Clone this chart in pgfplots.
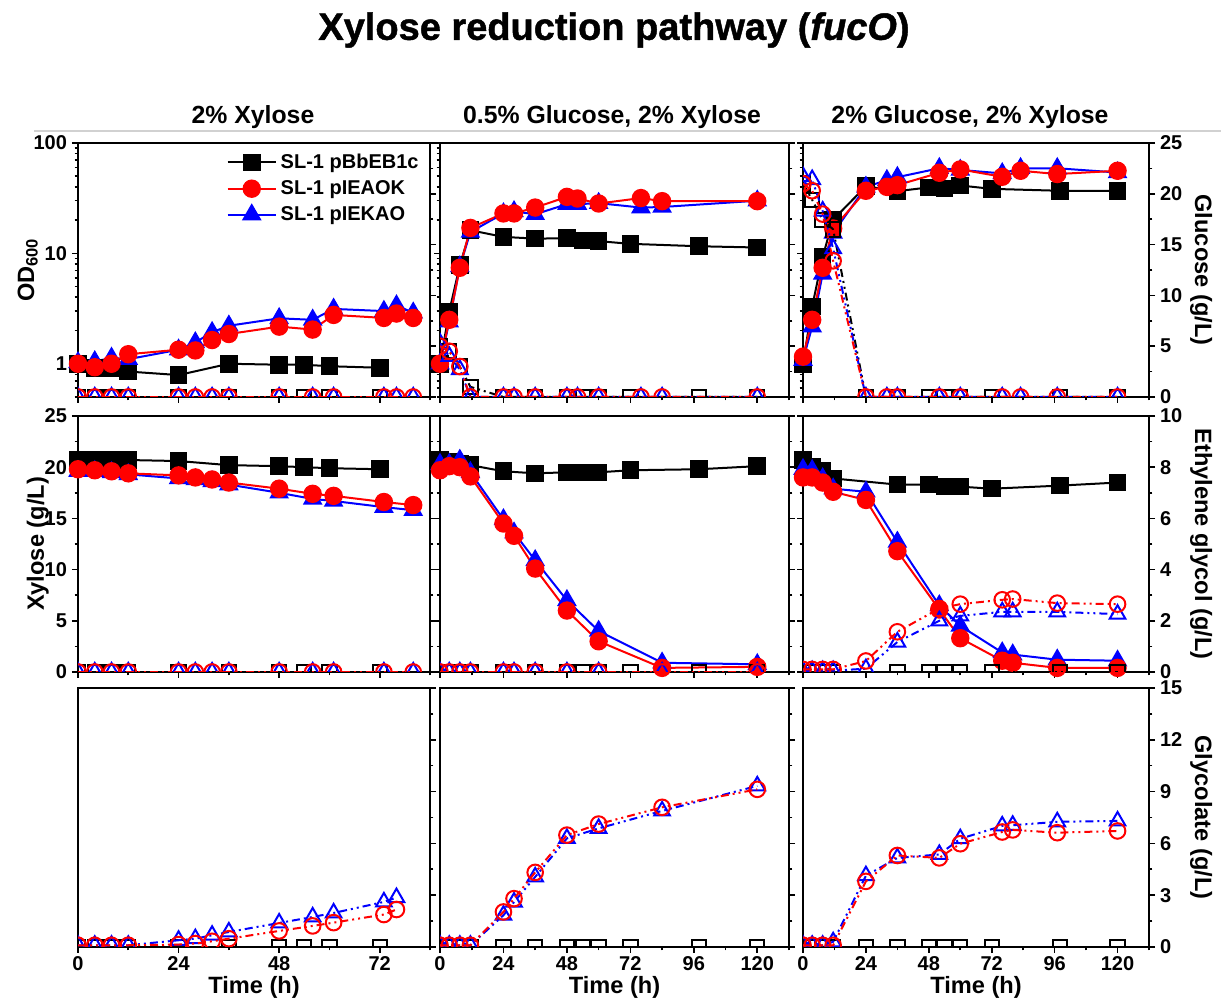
\documentclass[border=0pt]{standalone}
\usepackage{fontspec}
\setmainfont{Liberation Sans}
\newfontfamily\heavy[FakeBold=1.2]{Liberation Sans}
\usepackage{pgfplots}
\pgfplotsset{compat=1.18}
\newcommand{\tickfont}{\fontsize{10}{12}\selectfont\bfseries}
\newcommand{\labfont}{\fontsize{11.8}{14}\selectfont\bfseries}
\pgfplotsset{
  base/.style={scale only axis, axis line style={line width=1pt},
    every tick/.style={black, line width=0.8pt}, tick align=outside,
    major tick length=3pt, minor tick length=1.7pt,
    tick label style={font=\tickfont}, label style={font=\labfont},
    /pgf/number format/assume math mode=true, xtick pos=left, anchor=south west,
    xticklabel shift=-2pt, xlabel shift=-4pt},
  prim/.style={base, ytick pos=left, yticklabel shift=-1pt, ylabel shift=-9pt},
  sec/.style={base, axis y line*=right, axis x line=none, clip mode=individual, clip marker paths=true,
    yticklabel shift=-1pt, ylabel shift=-3pt},
  cL/.style={xmin=0, xmax=84, xtick={0,24,48,72}, minor xtick={12,36,60,84}, width=176pt},
  cM/.style={xmin=0, xmax=132, xtick={0,24,...,120}, minor xtick={12,36,...,132}, width=174.5pt},
  cR/.style={xmin=0, xmax=132, xtick={0,24,...,120}, minor xtick={12,36,...,132}, width=173pt},
  rT/.style={height=127pt},
  rM/.style={height=128pt},
  rB/.style={height=129.5pt},
  odax/.style={ymin=0.5, ymax=100, ytick={1,10,100},
    minor ytick={0.5,0.6,0.7,0.8,0.9,2,3,4,5,6,7,8,9,20,30,40,50,60,70,80,90}, log ticks with fixed point},
  xylax/.style={ymin=0, ymax=25, ytick={0,5,...,25}, minor ytick={2.5,7.5,...,22.5}},
  glcax/.style={ymin=0, ymax=25, ytick={0,5,...,25}, minor ytick={2.5,7.5,...,22.5}},
  egax/.style={ymin=0, ymax=10, ytick={0,2,...,10}, minor ytick={1,3,...,9}},
  gcax/.style={ymin=0, ymax=15, ytick={0,3,...,15}, minor ytick={1.5,4.5,...,13.5}},
  sBk/.style={black, line width=1pt, mark=square*, mark size=3.9pt, mark options={solid, fill=black}},
  sRd/.style={red, line width=1pt, mark=*, mark size=4.1pt, mark options={solid, fill=red}},
  sBl/.style={blue, line width=1pt, mark=triangle*, mark size=4.7pt, mark options={solid, fill=blue}},
  dd/.style={dash pattern=on 4pt off 2pt on 1pt off 2pt on 1pt off 2pt},
  oBk/.style={black, line width=1pt, dd, mark=square, mark size=3.6pt, mark options={solid, fill=white}},
  oRd/.style={red, line width=1pt, dd, mark=o, mark size=3.9pt, mark options={solid, fill=white}},
  oBl/.style={blue, line width=1pt, dd, mark=triangle, mark size=4.5pt, mark options={solid, fill=white}},
}
\begin{document}
\begin{tikzpicture}
\path[use as bounding box] (0pt,0pt) rectangle (610.5pt,499.5pt);
\draw[black!18, line width=0.6pt] (17pt,434pt) -- (610.5pt,434pt);
\node[font=\fontsize{19}{21}\selectfont\heavy\bfseries] at (307pt,484.5pt) {Xylose reduction pathway (\textit{fucO})};
\node[font=\fontsize{12.4}{14}\selectfont\bfseries] at (126.5pt,441pt) {2\% Xylose};
\node[font=\fontsize{12.4}{14}\selectfont\bfseries] at (306pt,441pt) {0.5\% Glucose, 2\% Xylose};
\node[font=\fontsize{12.4}{14}\selectfont\bfseries] at (485pt,441pt) {2\% Glucose, 2\% Xylose};

% ================= TOP LEFT =================
\begin{semilogyaxis}[prim, cL, rT, odax, at={(39pt,301pt)}, xticklabels={}, ylabel={OD\textsubscript{600}},
  legend image code/.code={\draw[mark repeat=2,mark phase=2,#1] plot coordinates {(0pt,0pt) (12pt,0pt) (24pt,0pt)};},
  legend style={at={(0.98,0.975)}, anchor=north east, draw=none, fill=none, font=\fontsize{10}{12}\selectfont\bfseries, inner sep=0pt, row sep=0.5pt},
  legend cell align=left]
\addlegendimage{sBk}\addlegendentry{SL-1 pBbEB1c}
\addlegendimage{sRd}\addlegendentry{SL-1 pIEAOK}
\addlegendimage{sBl}\addlegendentry{SL-1 pIEKAO}
\addplot[sBk, forget plot] coordinates {(0,1.0)(4,0.91)(8,0.91)(12,0.85)(24,0.79)(36,1.0)(48,0.98)(54,0.98)(60,0.95)(72,0.92)};
\addplot[sBl, forget plot] coordinates {(0,1.03)(4,1.05)(8,1.13)(12,1.1)(24,1.34)(28,1.56)(32,1.93)(36,2.21)(48,2.58)(56,2.5)(61,3.14)(73,3.0)(76,3.37)(80,2.9)};
\addplot[sRd, forget plot] coordinates {(0,1.0)(4,0.93)(8,1.0)(12,1.22)(24,1.34)(28,1.32)(32,1.64)(36,1.86)(48,2.17)(56,2.04)(61,2.77)(73,2.6)(76,2.85)(80,2.6)};
\end{semilogyaxis}
\begin{axis}[sec, cL, rT, glcax, at={(39pt,301pt)}, yticklabels={}]
\addplot[oBk] coordinates {(0,0)(4,0)(8,0)(12,0)(24,0)(36,0)(48,0)(54,0)(60,0)(72,0)};
\addplot[oBl] coordinates {(0,0)(4,0)(8,0)(12,0)(24,0)(28,0)(32,0)(36,0)(48,0)(56,0)(61,0)(73,0)(76,0)(80,0)};
\addplot[oRd] coordinates {(0,0)(4,0)(8,0)(12,0)(24,0)(28,0)(32,0)(36,0)(48,0)(56,0)(61,0)(73,0)(76,0)(80,0)};
\end{axis}

% ================= TOP MIDDLE =================
\begin{semilogyaxis}[prim, cM, rT, odax, at={(220pt,301pt)}, xticklabels={}, yticklabels={}]
\addplot[sBk] coordinates {(0,1.0)(3.5,2.97)(7.5,7.8)(11.5,16.2)(24,14.1)(36,13.6)(48,13.7)(54,13.1)(60,12.9)(72,12.2)(98,11.6)(120,11.3)};
\addplot[sBl] coordinates {(0,1.0)(3.5,2.4)(7.5,7.6)(11.5,15.6)(24,23)(28,24)(36,22.6)(48,27.9)(52,27.9)(60,28.5)(76,26)(84,26.3)(120,30)};
\addplot[sRd] coordinates {(0,1.0)(3.5,2.5)(7.5,7.4)(11.5,17)(24,23)(28,23)(36,26)(48,32.5)(52,31.4)(60,28.3)(76,31.7)(84,29.7)(120,29.7)};
\end{semilogyaxis}
\begin{axis}[sec, cM, rT, glcax, at={(220pt,301pt)}, yticklabels={}]
\addplot[oBk] coordinates {(0,5)(3.5,4.5)(7.5,3.0)(11.5,1.0)(24,0)(36,0)(48,0)(54,0)(60,0)(72,0)(98,0)(120,0)};
\addplot[oBl] coordinates {(0,5.3)(3.5,4.0)(7.5,2.7)(11.5,0)(24,0)(28,0)(36,0)(48,0)(52,0)(60,0)(76,0)(84,0)(120,0)};
\addplot[oRd] coordinates {(0,5.0)(3.5,4.5)(7.5,3.0)(11.5,0)(24,0)(28,0)(36,0)(48,0)(52,0)(60,0)(76,0)(84,0)(120,0)};
\end{axis}

% ================= TOP RIGHT =================
\begin{semilogyaxis}[prim, cR, rT, odax, at={(401.5pt,301pt)}, xticklabels={}, yticklabels={}]
\addplot[sBk] coordinates {(0,1.0)(3.5,3.3)(7.5,9.3)(11.5,20.2)(24,40.6)(36,36.6)(48,39.6)(54,38.6)(60,41.2)(72,38.4)(98,36.9)(120,36.9)};
\addplot[sBl] coordinates {(0,1.08)(3.5,2.17)(7.5,6.5)(11.5,15.3)(24,40)(32,46)(36,49)(52,59)(60,57)(76,53)(83,59)(97,59)(120,54)};
\addplot[sRd] coordinates {(0,1.16)(3.5,2.5)(7.5,7.4)(11.5,16.8)(24,36.9)(32,40)(36,41.5)(52,53.7)(60,57.6)(76,49.4)(83,56)(97,52.3)(120,56)};
\end{semilogyaxis}
\begin{axis}[sec, cR, rT, glcax, at={(401.5pt,301pt)}, ylabel={Glucose (g/L)}, ylabel style={rotate=180}]
\addplot[oBk] coordinates {(0,21)(3.5,19.4)(7.5,17.4)(11.5,16.5)(24,0)(36,0)(48,0)(54,0)(60,0)(72,0)(98,0)(120,0)};
\addplot[oBl] coordinates {(0,21.7)(3.5,21.4)(7.5,18.3)(11.5,14.6)(24,0)(32,0)(36,0)(52,0)(60,0)(76,0)(83,0)(97,0)(120,0)};
\addplot[oRd] coordinates {(0,21)(3.5,20.3)(7.5,18.0)(11.5,13.4)(24,0)(32,0)(36,0)(52,0)(60,0)(76,0)(83,0)(97,0)(120,0)};
\end{axis}

% ================= MID LEFT =================
\begin{axis}[prim, cL, rM, xylax, at={(39pt,163.5pt)}, xticklabels={}, ylabel={Xylose (g/L)}]
\addplot[sBk] coordinates {(0,20.7)(4,20.7)(8,20.7)(12,20.7)(24,20.6)(36,20.2)(48,20.1)(54,20.0)(60,19.9)(72,19.8)};
\addplot[sBl] coordinates {(0,19.6)(4,19.6)(8,19.5)(12,19.3)(24,18.9)(28,18.8)(32,18.6)(36,18.3)(48,17.5)(56,16.9)(61,16.7)(73,16.1)(80,15.8)};
\addplot[sRd] coordinates {(0,19.8)(4,19.7)(8,19.6)(12,19.4)(24,19.2)(28,19.0)(32,18.8)(36,18.5)(48,17.9)(56,17.4)(61,17.2)(73,16.6)(80,16.3)};
\end{axis}
\begin{axis}[sec, cL, rM, egax, at={(39pt,163.5pt)}, yticklabels={}]
\addplot[oBk] coordinates {(0,0)(4,0)(8,0)(12,0)(24,0)(36,0)(48,0)(54,0)(60,0)(72,0)};
\addplot[oBl] coordinates {(0,0)(4,0)(8,0)(12,0)(24,0)(28,0)(32,0)(36,0)(48,0)(56,0)(61,0)(73,0)(80,0)};
\addplot[oRd] coordinates {(0,0)(4,0)(8,0)(12,0)(24,0)(28,0)(32,0)(36,0)(48,0)(56,0)(61,0)(73,0)(80,0)};
\end{axis}

% ================= MID MIDDLE =================
\begin{axis}[prim, cM, rM, xylax, at={(220pt,163.5pt)}, xticklabels={}, yticklabels={}]
\addplot[sBk] coordinates {(0,20.7)(3.5,20.5)(7.5,20.3)(11.5,20.2)(24,19.6)(36,19.4)(48,19.5)(54,19.5)(60,19.5)(72,19.7)(98,19.8)(120,20.1)};
\addplot[sBl] coordinates {(0,20.3)(3.5,20.3)(7.5,20.7)(11.5,19.5)(24,14.9)(28,13.6)(36,10.9)(48,7.0)(60,4.0)(84,0.9)(120,0.75)};
\addplot[sRd] coordinates {(0,19.7)(3.5,20.1)(7.5,20.0)(11.5,19.1)(24,14.5)(28,13.3)(36,10.1)(48,6.0)(60,3.0)(84,0.4)(120,0.5)};
\end{axis}
\begin{axis}[sec, cM, rM, egax, at={(220pt,163.5pt)}, yticklabels={}]
\addplot[oBk] coordinates {(0,0)(3.5,0)(7.5,0)(11.5,0)(24,0)(36,0)(48,0)(54,0)(60,0)(72,0)(98,0)(120,0)};
\addplot[oBl] coordinates {(0,0)(3.5,0)(7.5,0)(11.5,0)(24,0)(28,0)(36,0)(48,0)(60,0)(84,0)(120,0)};
\addplot[oRd] coordinates {(0,0)(3.5,0)(7.5,0)(11.5,0)(24,0)(28,0)(36,0)(48,0)(60,0)(84,0)(120,0)};
\end{axis}

% ================= MID RIGHT =================
\begin{axis}[prim, cR, rM, xylax, at={(401.5pt,163.5pt)}, xticklabels={}, yticklabels={}]
\addplot[sBk] coordinates {(0,20.7)(3.5,20.0)(7.5,19.6)(11.5,18.9)(36,18.3)(48,18.3)(54,18.1)(60,18.1)(72,17.9)(98,18.2)(120,18.5)};
\addplot[sBl] coordinates {(0,19.8)(3.5,19.7)(7.5,18.9)(11.5,17.9)(24,17.6)(36,12.7)(52,6.5)(60,4.5)(76,1.9)(80,1.7)(97,1.2)(120,1.1)};
\addplot[sRd] coordinates {(0,19.0)(3.5,19.0)(7.5,18.5)(11.5,17.6)(24,16.8)(36,11.8)(52,6.1)(60,3.3)(76,1.1)(80,0.9)(97,0.4)(120,0.4)};
\end{axis}
\begin{axis}[sec, cR, rM, egax, at={(401.5pt,163.5pt)}, ylabel={Ethylene glycol (g/L)}, ylabel style={rotate=180}]
\addplot[oBk] coordinates {(0,0)(3.5,0)(7.5,0)(11.5,0)(36,0)(48,0)(54,0)(60,0)(72,0)(98,0)(120,0)};
\addplot[oBl] coordinates {(0,0.05)(3.5,0.05)(7.5,0.05)(11.5,0.05)(24,0.13)(36,1.17)(52,2.0)(60,2.19)(76,2.35)(80,2.35)(97,2.35)(120,2.26)};
\addplot[oRd] coordinates {(0,0.1)(3.5,0.1)(7.5,0.1)(11.5,0.1)(24,0.43)(36,1.57)(52,2.48)(60,2.65)(76,2.82)(80,2.85)(97,2.69)(120,2.65)};
\end{axis}

% ================= BOTTOM LEFT =================
\begin{axis}[prim, cL, rB, ymin=0, ymax=15, ytick=\empty, at={(39pt,26pt)}, xlabel={Time (h)}]
\end{axis}
\begin{axis}[sec, cL, rB, gcax, at={(39pt,26pt)}, yticklabels={}]
\addplot[oBk] coordinates {(0,0)(4,0)(8,0)(12,0)(24,0)(36,0)(48,0)(54,0)(60,0)(72,0)};
\addplot[oBl] coordinates {(0,0.1)(4,0.1)(8,0.1)(12,0.1)(24,0.39)(28,0.48)(32,0.68)(36,0.87)(48,1.39)(56,1.74)(61,1.97)(73,2.61)(76,2.86)};
\addplot[oRd] coordinates {(0,0.1)(4,0.1)(8,0.1)(12,0.1)(24,0.14)(28,0.2)(32,0.33)(36,0.48)(48,0.93)(56,1.22)(61,1.41)(73,1.88)(76,2.17)};
\end{axis}

% ================= BOTTOM MIDDLE =================
\begin{axis}[prim, cM, rB, ymin=0, ymax=15, ytick=\empty, at={(220pt,26pt)}, xlabel={Time (h)}]
\end{axis}
\begin{axis}[sec, cM, rB, gcax, at={(220pt,26pt)}, yticklabels={}]
\addplot[oBk] coordinates {(0,0)(3.5,0)(7.5,0)(11.5,0)(24,0)(36,0)(48,0)(54,0)(60,0)(72,0)(98,0)(120,0)};
\addplot[oBl] coordinates {(0,0.1)(3.5,0.1)(7.5,0.1)(11.5,0.1)(24,1.84)(28,2.6)(36,4.06)(48,6.29)(60,6.87)(84,7.88)(120,9.33)};
\addplot[oRd] coordinates {(0,0.1)(3.5,0.1)(7.5,0.1)(11.5,0.1)(24,2.03)(28,2.8)(36,4.32)(48,6.48)(60,7.12)(84,8.09)(120,9.13)};
\end{axis}

% ================= BOTTOM RIGHT =================
\begin{axis}[prim, cR, rB, ymin=0, ymax=15, ytick=\empty, at={(401.5pt,26pt)}, xlabel={Time (h)}]
\end{axis}
\begin{axis}[sec, cR, rB, gcax, at={(401.5pt,26pt)}, ylabel={Glycolate (g/L)}, ylabel style={rotate=180}]
\addplot[oBk] coordinates {(0,0)(3.5,0)(7.5,0)(11.5,0)(24,0)(36,0)(48,0)(54,0)(60,0)(72,0)(98,0)(120,0)};
\addplot[oBl] coordinates {(0,0.1)(3.5,0.1)(7.5,0.1)(11.5,0.3)(24,4.13)(36,5.16)(52,5.36)(60,6.27)(76,7.01)(80,7.05)(97,7.25)(120,7.3)};
\addplot[oRd] coordinates {(0,0.1)(3.5,0.1)(7.5,0.1)(11.5,0.1)(24,3.8)(36,5.3)(52,5.16)(60,5.98)(76,6.66)(80,6.78)(97,6.62)(120,6.72)};
\end{axis}
\end{tikzpicture}
\end{document}
